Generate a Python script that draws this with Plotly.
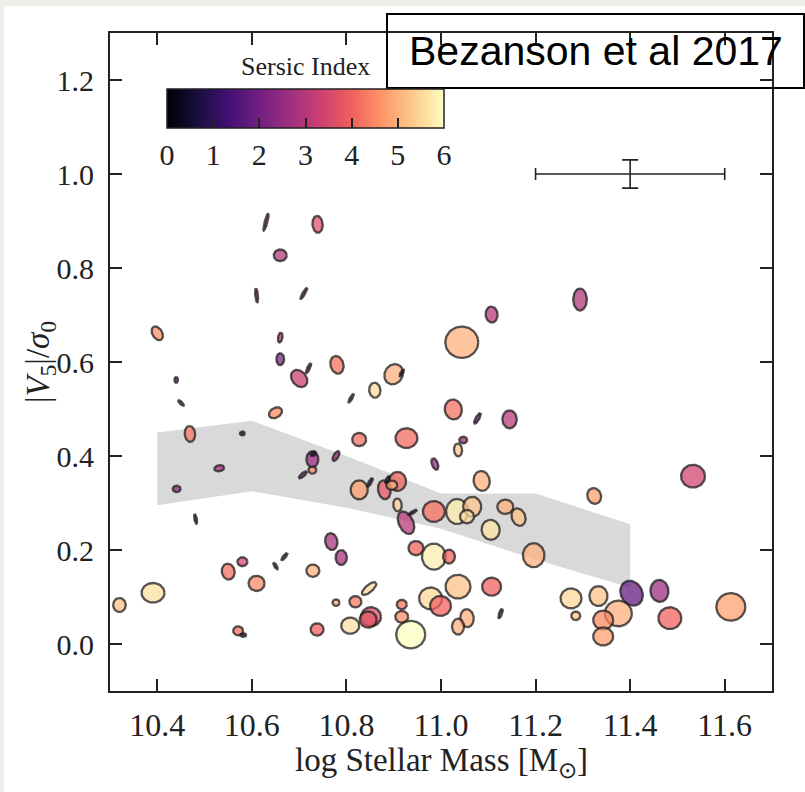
import numpy as np
import plotly.graph_objects as go
from plotly.colors import sample_colorscale

# ---------------- data ----------------
mass = [10.63, 10.739, 10.66, 10.61, 10.71, 10.40, 10.66, 10.66, 10.70, 10.72,
        10.78, 10.90, 10.917, 10.86, 10.81, 10.44, 10.45, 10.65, 11.044, 11.026,
        10.927, 10.827, 11.294, 11.107, 11.077, 11.145, 11.047, 11.036, 10.987, 11.086,
        11.324, 11.533, 10.985, 11.034, 11.066, 11.055, 11.136, 11.164, 11.105, 10.926,
        10.94, 11.196, 10.947, 10.985, 11.017, 11.036, 10.978, 10.999, 11.107, 11.126,
        11.055, 11.036, 10.936, 11.275, 11.285, 11.333, 11.403, 11.462, 11.375, 11.343,
        11.343, 11.484, 11.613, 10.469, 10.58, 10.531, 10.441, 10.481, 10.728, 10.73,
        10.708, 10.728, 10.778, 10.827, 10.85, 10.88, 10.908, 10.896, 10.887, 10.908,
        10.768, 10.789, 10.729, 10.669, 10.65, 10.58, 10.55, 10.61, 10.391, 10.32,
        10.571, 10.582, 10.738, 10.778, 10.819, 10.848, 10.852, 10.846, 10.808, 10.917,
        10.917]
v5_sigma = [0.898, 0.893, 0.827, 0.742, 0.746, 0.661, 0.652, 0.606, 0.565, 0.587,
            0.594, 0.574, 0.577, 0.540, 0.523, 0.562, 0.513, 0.492, 0.642, 0.499,
            0.438, 0.435, 0.733, 0.701, 0.480, 0.478, 0.434, 0.413, 0.383, 0.347,
            0.315, 0.357, 0.282, 0.282, 0.292, 0.271, 0.292, 0.270, 0.243, 0.258,
            0.280, 0.189, 0.204, 0.186, 0.186, 0.122, 0.097, 0.081, 0.122, 0.065,
            0.055, 0.037, 0.020, 0.097, 0.060, 0.102, 0.108, 0.113, 0.065, 0.051,
            0.016, 0.055, 0.079, 0.447, 0.448, 0.374, 0.330, 0.266, 0.393, 0.405,
            0.360, 0.370, 0.400, 0.328, 0.344, 0.328, 0.346, 0.338, 0.350, 0.296,
            0.218, 0.184, 0.156, 0.186, 0.166, 0.175, 0.154, 0.129, 0.109, 0.083,
            0.028, 0.019, 0.031, 0.088, 0.090, 0.118, 0.058, 0.052, 0.039, 0.084,
            0.058]
sersic = [3.0, 3.7, 3.0, 3.0, 3.0, 4.6, 3.0, 2.2, 3.3, 3.0,
          4.2, 5.0, 0.5, 5.5, 3.0, 2.0, 3.0, 4.5, 5.0, 4.2,
          4.1, 4.2, 2.9, 3.0, 2.0, 3.0, 2.5, 5.3, 2.5, 5.0,
          4.8, 3.4, 4.2, 5.8, 5.3, 5.6, 5.0, 5.2, 5.7, 3.0,
          1.0, 5.0, 4.0, 5.8, 4.0, 5.2, 5.5, 4.0, 4.0, 2.0,
          5.0, 5.0, 6.0, 5.5, 5.3, 5.2, 1.8, 2.6, 5.0, 4.5,
          4.8, 4.0, 4.8, 4.3, 1.0, 2.8, 2.5, 2.0, 2.6, 0.5,
          2.0, 4.5, 2.5, 4.8, 1.0, 3.8, 4.0, 5.0, 0.5, 5.5,
          2.8, 2.8, 5.0, 2.0, 2.0, 3.5, 4.2, 4.5, 5.6, 5.2,
          4.2, 1.0, 4.0, 5.0, 4.3, 5.5, 3.6, 3.8, 5.6, 4.3,
          4.5]
major_axis = [18, 17, 13, 14, 13, 15, 10, 12, 19, 11,
              18, 21, 8, 15, 10, 6, 8, 14, 33, 20,
              22, 14, 22, 16, 12, 18, 8, 13, 12, 20,
              16, 24, 22, 25, 20, 14, 16, 18, 20, 24,
              10, 24, 15, 26, 14, 25, 23, 21, 19, 10,
              18, 16, 29, 21, 9, 20, 26, 22, 27, 20,
              20, 23, 29, 16, 5, 10, 8, 10, 16, 6,
              10, 8, 11, 19, 10, 19, 19, 11, 8, 13,
              17, 15, 13, 9, 8, 10, 16, 16, 23, 14,
              10, 6, 13, 7, 12, 18, 20, 17, 18, 10,
              13]
axis_ratio = [0.15, 0.6, 0.9, 0.2, 0.2, 0.65, 0.45, 0.65, 0.75, 0.25,
              0.72, 0.85, 0.3, 0.75, 0.25, 0.6, 0.3, 0.7, 0.95, 0.85,
              0.9, 0.95, 0.62, 0.75, 0.3, 0.8, 0.85, 0.62, 0.5, 0.8,
              0.85, 0.95, 0.95, 0.88, 0.9, 0.95, 0.9, 0.75, 0.9, 0.6,
              0.25, 0.9, 0.95, 0.92, 0.85, 0.95, 0.95, 0.95, 0.95, 0.3,
              0.75, 0.75, 0.95, 0.95, 0.95, 0.9, 0.82, 0.82, 0.95, 0.95,
              0.9, 0.95, 0.95, 0.65, 0.8, 0.6, 0.8, 0.25, 0.75, 0.7,
              0.35, 0.9, 0.45, 0.9, 0.3, 0.65, 0.9, 0.85, 0.4, 0.65,
              0.72, 0.75, 0.95, 0.3, 0.3, 0.9, 0.8, 0.95, 0.85, 0.9,
              0.9, 0.6, 0.95, 0.95, 0.95, 0.4, 0.95, 0.95, 0.9, 0.95,
              0.9]
position_angle = [75, 95, 0, 95, 60, 120, 80, 90, 130, 65,
                  105, 60, 60, 95, 60, 90, 135, 30, 0, 100,
                  0, 0, 90, 95, 60, 90, 0, 95, 110, 100,
                  110, 0, 0, 90, 90, 0, 0, 110, 100, 115,
                  30, 90, 0, 90, 90, 0, 0, 0, 0, 70,
                  95, 90, 0, 0, 0, 90, 120, 95, 0, 0,
                  0, 0, 0, 95, 0, 10, 0, 100, 90, 30,
                  40, 0, 60, 90, 60, 100, 90, 0, 60, 95,
                  100, 90, 0, 50, 120, 0, 100, 0, 0, 90,
                  0, 0, 0, 0, 0, 40, 0, 0, 0, 0,
                  0]

# running band (mass bins, lower / upper)
band_mass = [10.4, 10.6, 10.8, 11.0, 11.2, 11.4]
band_low = [0.295, 0.325, 0.29, 0.245, 0.18, 0.12]
band_high = [0.45, 0.475, 0.40, 0.32, 0.32, 0.255]

# typical error bar
err_mass, err_v = 11.4, 1.0
err_dmass, err_dv = 0.2, 0.03

x_ticks = [10.4, 10.6, 10.8, 11.0, 11.2, 11.4, 11.6]
y_ticks = [0.0, 0.2, 0.4, 0.6, 0.8, 1.0, 1.2]
cbar_ticks = [0, 1, 2, 3, 4, 5, 6]

# ---------------- layout geometry ----------------
W, H = 805, 792
ML, MR, MT, MB = 110, 33, 33, 101
XR = [10.3, 11.7]
YR = [-0.1, 1.3]
pw, ph = W - ML - MR, H - MT - MB
sx = pw / (XR[1] - XR[0])
sy = ph / (YR[1] - YR[0])

def px_x(p):
    return (p - ML) / pw

def px_y(p):
    return (H - MB - p) / ph

SERIF = "Liberation Serif"
INK = "#222222"

fig = go.Figure()

# grey band
fig.add_trace(go.Scatter(
    x=band_mass + band_mass[::-1], y=band_high + band_low[::-1],
    fill="toself", mode="lines", line=dict(width=0),
    fillcolor="rgb(217,217,217)", hoverinfo="skip", showlegend=False))

# ellipses
cols = sample_colorscale("Magma", [min(max(n / 6.0, 0), 1) for n in sersic])
t = np.linspace(0, 2 * np.pi, 64)
for xi, yi, c, a_px, q, pa in zip(mass, v5_sigma, cols, major_axis, axis_ratio, position_angle):
    a = a_px / 2.0
    b = a * q
    th = np.deg2rad(pa)
    ex, ey = a * np.cos(t), b * np.sin(t)
    X = ex * np.cos(th) - ey * np.sin(th)
    Y = ex * np.sin(th) + ey * np.cos(th)
    rgb = c[c.index("(") + 1:c.index(")")]
    fig.add_trace(go.Scatter(
        x=xi + X / sx, y=yi + Y / sy, mode="lines", fill="toself",
        fillcolor=f"rgba({rgb},0.74)",
        line=dict(color="rgba(30,30,30,0.75)", width=2.3),
        hoverinfo="skip", showlegend=False))

# colour scale carrier (invisible points)
fig.add_trace(go.Scatter(
    x=mass, y=v5_sigma, mode="markers",
    marker=dict(size=1, opacity=0, color=sersic, colorscale="Magma", cmin=0, cmax=6,
                showscale=True,
                colorbar=dict(
                    orientation="h", x=px_x(305.5), xanchor="center",
                    y=px_y(89), yanchor="top", xpad=0, ypad=0,
                    len=277, lenmode="pixels", thickness=39, thicknessmode="pixels",
                    outlinewidth=1.5, outlinecolor=INK,
                    tickmode="array", tickvals=cbar_ticks, ticktext=[str(v) for v in cbar_ticks],
                    ticks="inside", ticklen=10, tickwidth=1.5, tickcolor=INK,
                    tickfont=dict(family=SERIF, size=30, color=INK))),
    hoverinfo="skip", showlegend=False))

# error bar
fig.add_trace(go.Scatter(
    x=[err_mass], y=[err_v], mode="markers", marker=dict(size=1, color="rgba(0,0,0,0)"),
    error_x=dict(type="data", array=[err_dmass], width=6, thickness=1.6, color=INK),
    error_y=dict(type="data", array=[err_dv], width=8, thickness=1.6, color=INK),
    hoverinfo="skip", showlegend=False))

axis_common = dict(showline=True, linewidth=2, linecolor=INK, mirror="ticks",
                   ticks="inside", ticklen=12, tickwidth=1.6, tickcolor=INK,
                   showgrid=False, zeroline=False)

fig.update_layout(
    width=W, height=H, margin=dict(l=ML, r=MR, t=MT, b=MB),
    paper_bgcolor="white", plot_bgcolor="white",
    xaxis=dict(range=XR, tickvals=x_ticks, ticktext=[f"{v:.1f}" for v in x_ticks],
               ticklabelstandoff=5, tickfont=dict(family=SERIF, size=32, color=INK),
               **axis_common),
    yaxis=dict(range=YR, tickvals=y_ticks, ticktext=[f"{v:.1f}" for v in y_ticks],
               ticklabelstandoff=8, tickfont=dict(family=SERIF, size=30, color=INK),
               **axis_common),
    showlegend=False,
)

# axis titles
fig.add_annotation(text="log Stellar Mass [M<sub>⊙</sub>]", xref="paper", yref="paper",
                   x=0.5, y=px_y(762), xanchor="center", yanchor="middle", showarrow=False,
                   font=dict(family=SERIF, size=33, color=INK))
fig.add_annotation(text="|<i>V</i><sub>5</sub>|/<i>σ</i><sub>0</sub>", xref="paper", yref="paper",
                   x=px_x(40), y=0.5, xanchor="center", yanchor="middle", textangle=-90,
                   showarrow=False, font=dict(family=SERIF, size=33, color=INK))
# colour bar title
fig.add_annotation(text="Sersic Index", xref="paper", yref="paper",
                   x=px_x(305.5), y=px_y(67), xanchor="center", yanchor="middle",
                   showarrow=False, font=dict(family=SERIF, size=26, color=INK))

# reference box
fig.add_shape(type="rect", xref="paper", yref="paper",
              x0=px_x(387), x1=px_x(804), y0=px_y(88), y1=px_y(14),
              line=dict(color="black", width=2), fillcolor="rgba(0,0,0,0)")
fig.add_annotation(text="Bezanson et al 2017", xref="paper", yref="paper",
                   x=px_x(595.5), y=px_y(51), xanchor="center", yanchor="middle",
                   showarrow=False, font=dict(family="Liberation Sans", size=41, color="black"))

# slide-like light border at the left and top edges
fig.add_shape(type="rect", xref="paper", yref="paper", x0=px_x(0), x1=px_x(4),
              y0=px_y(H), y1=px_y(0), line=dict(width=0), fillcolor="#efeeeb", layer="below")
fig.add_shape(type="rect", xref="paper", yref="paper", x0=px_x(0), x1=px_x(W),
              y0=px_y(6), y1=px_y(0), line=dict(width=0), fillcolor="#efeeeb", layer="below")

fig.write_html("out.html")
